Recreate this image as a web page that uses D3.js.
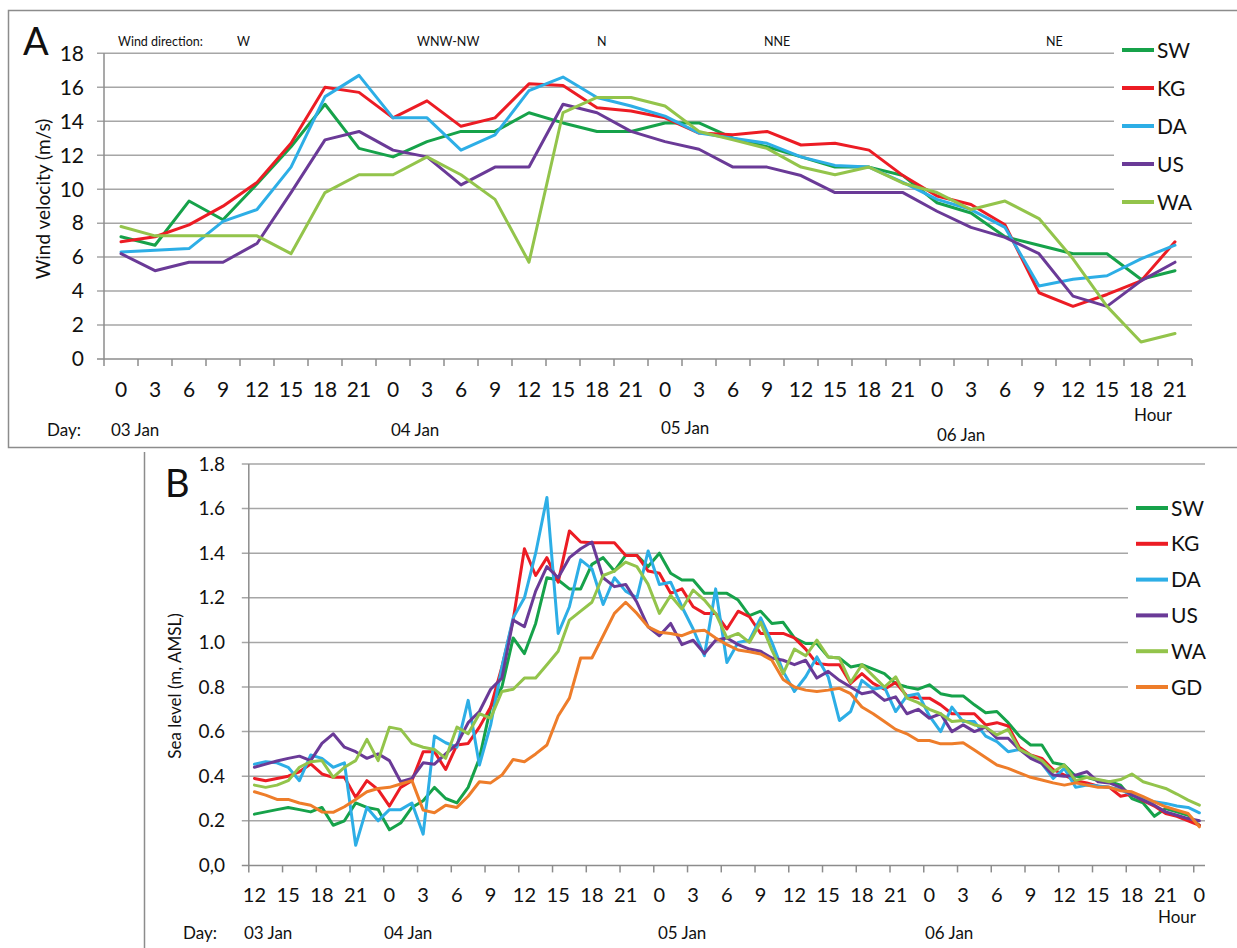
<!DOCTYPE html>
<html>
<head>
<meta charset="utf-8">
<script src="https://cdn.jsdelivr.net/npm/d3@7"></script>
<style>
  body { margin: 0; background: #ffffff; }
  svg { display: block; font-family: Lato, "Open Sans", "DejaVu Sans", sans-serif; }
</style>
</head>
<body>
<svg id="chart" width="1237" height="948"></svg>
<script>
// ---------- Panel A: wind velocity, 3-hourly, 03–06 Jan ----------
const windHourLabels = ["0","3","6","9","12","15","18","21",
                        "0","3","6","9","12","15","18","21",
                        "0","3","6","9","12","15","18","21",
                        "0","3","6","9","12","15","18","21"];
const windYTicks = [0,2,4,6,8,10,12,14,16,18];
const windSW = [7.2,6.7,9.3,8.2,10.3,12.5,15.0,12.4, 11.9,12.8,13.4,13.4,14.5,13.9,13.4,13.4,
                13.9,13.9,13.0,12.5,11.9,11.3,11.3,10.8, 9.2,8.6,7.2,6.7,6.2,6.2,4.7,5.2];
const windKG = [6.9,7.2,7.9,9.0,10.4,12.7,16.0,15.7, 14.2,15.2,13.7,14.2,16.2,16.1,14.8,14.6,
                14.2,13.3,13.2,13.4,12.6,12.7,12.3,10.8, 9.6,9.1,7.9,3.9,3.1,3.8,4.6,6.9];
const windDA = [6.3,6.4,6.5,8.1,8.8,11.3,15.45,16.7, 14.2,14.2,12.3,13.2,15.8,16.6,15.4,14.9,
                14.3,13.3,13.0,12.7,11.9,11.4,11.3,10.4, 9.4,8.8,7.75,4.3,4.7,4.9,5.9,6.7];
const windUS = [6.2,5.2,5.7,5.7,6.8,9.8,12.9,13.4, 12.3,11.9,10.25,11.3,11.3,15.0,14.5,13.4,
                12.8,12.35,11.3,11.3,10.8,9.8,9.8,9.8, 8.7,7.75,7.16,6.2,3.7,3.1,4.6,5.7];
const windWA = [7.8,7.25,7.25,7.25,7.25,6.2,9.8,10.85, 10.85,11.9,10.85,9.4,5.7,14.5,15.4,15.4,
                14.9,13.4,12.9,12.4,11.3,10.85,11.3,10.35, 9.8,8.8,9.3,8.27,5.9,3.1,1.0,1.5];
const windDirections = ["W","WNW-NW","N","NNE","NE"];

// ---------- Panel B: sea level, hourly, 03 Jan 12h – 07 Jan 0h ----------
const seaTickLabels = ["12","15","18","21","0","3","6","9","12","15","18","21",
                       "0","3","6","9","12","15","18","21","0","3","6","9","12","15","18","21","0"];
const seaYTicks = [0,0.2,0.4,0.6,0.8,1.0,1.2,1.4,1.6,1.8];
const seaSW = [0.23,0.24,0.25,0.26,0.25,0.24,0.26,0.18,0.20,0.28,0.26,0.25,0.16,0.19,0.26,0.29,0.35,0.30,0.28,0.35,0.48,0.71,
               0.80,1.02,0.95,1.085,1.29,1.28,1.24,1.24,1.35,1.38,1.32,1.39,1.39,1.34,1.40,1.31,1.28,1.28,1.22,1.22,
               1.22,1.19,1.12,1.14,1.085,1.09,1.02,0.995,0.995,0.935,0.93,0.89,0.90,0.88,0.86,0.815,0.80,0.79,0.81,
               0.77,0.76,0.76,0.72,0.685,0.69,0.64,0.58,0.54,0.54,0.46,0.45,0.40,0.395,0.38,0.375,0.36,0.30,0.28,0.22,0.255,0.24,0.225,0.18];
const seaKG = [0.39,0.38,0.39,0.40,0.42,0.455,0.41,0.395,0.395,0.305,0.38,0.34,0.266,0.35,0.38,0.51,0.51,0.43,0.54,0.547,0.62,0.71,
               0.89,1.10,1.42,1.30,1.38,1.27,1.50,1.45,1.447,1.447,1.447,1.39,1.39,1.32,1.31,1.22,1.24,1.16,1.13,1.13,
               1.06,1.14,1.115,1.04,1.04,1.04,1.02,0.97,0.905,0.90,0.90,0.816,0.86,0.816,0.79,0.82,0.76,0.75,0.75,
               0.72,0.68,0.68,0.68,0.63,0.64,0.625,0.53,0.495,0.48,0.43,0.405,0.38,0.37,0.355,0.35,0.31,0.32,0.29,0.266,0.233,0.22,0.20,0.18];
const seaDA = [0.454,0.465,0.46,0.44,0.38,0.495,0.48,0.44,0.46,0.09,0.26,0.20,0.25,0.25,0.28,0.14,0.58,0.55,0.53,0.74,0.45,0.63,
               0.89,1.11,1.20,1.40,1.65,1.04,1.16,1.37,1.33,1.17,1.29,1.23,1.20,1.41,1.26,1.27,1.16,1.06,0.94,1.24,
               0.91,1.0,1.01,1.11,1.0,0.87,0.78,0.846,0.935,0.846,0.65,0.69,0.83,0.79,0.80,0.69,0.76,0.77,0.67,
               0.60,0.71,0.645,0.645,0.58,0.555,0.51,0.52,0.49,0.457,0.39,0.435,0.35,0.36,0.356,0.35,0.34,0.315,0.30,0.285,0.278,0.266,0.26,0.236];
const seaUS = [0.44,0.454,0.468,0.48,0.49,0.47,0.547,0.59,0.53,0.51,0.48,0.50,0.47,0.375,0.39,0.46,0.454,0.50,0.544,0.64,0.69,0.79,
               0.84,1.10,1.07,1.23,1.34,1.29,1.38,1.42,1.45,1.29,1.25,1.26,1.18,1.07,1.03,1.085,0.99,1.01,0.95,1.01,
               1.02,0.99,0.97,0.96,0.93,0.92,0.90,0.92,0.84,0.87,0.83,0.80,0.77,0.78,0.74,0.756,0.68,0.70,0.66,
               0.68,0.60,0.63,0.60,0.62,0.57,0.57,0.52,0.48,0.457,0.405,0.40,0.405,0.42,0.375,0.37,0.35,0.315,0.293,0.27,0.24,0.225,0.21,0.20];
const seaWA = [0.36,0.35,0.36,0.38,0.44,0.465,0.47,0.395,0.44,0.47,0.565,0.47,0.62,0.61,0.547,0.53,0.52,0.48,0.62,0.59,0.68,0.66,
               0.78,0.79,0.84,0.84,0.90,0.96,1.10,1.14,1.18,1.30,1.32,1.36,1.34,1.26,1.13,1.21,1.15,1.235,1.19,1.13,
               1.02,1.04,1.0,1.09,0.965,0.86,0.97,0.94,1.01,0.935,0.93,0.82,0.90,0.85,0.80,0.846,0.75,0.73,0.70,
               0.68,0.645,0.65,0.63,0.62,0.585,0.61,0.52,0.495,0.47,0.42,0.45,0.38,0.395,0.385,0.375,0.385,0.41,0.375,0.36,0.345,0.32,0.293,0.27];
const seaGD = [0.33,0.315,0.296,0.296,0.28,0.27,0.24,0.238,0.263,0.296,0.33,0.345,0.35,0.365,0.38,0.248,0.236,0.27,0.26,0.31,0.375,0.37,
               0.405,0.475,0.465,0.50,0.54,0.67,0.75,0.93,0.93,1.03,1.13,1.18,1.13,1.07,1.045,1.04,1.03,1.05,1.055,1.02,
               0.99,0.966,0.958,0.948,0.92,0.834,0.80,0.786,0.78,0.786,0.794,0.77,0.71,0.68,0.645,0.61,0.59,0.56,0.56,
               0.545,0.545,0.55,0.517,0.484,0.45,0.435,0.415,0.395,0.383,0.37,0.36,0.37,0.36,0.35,0.35,0.335,0.33,0.308,0.285,0.263,0.248,0.233,0.173];

const stationNames = ["SW","KG","DA","US","WA","GD"];
const stationColors = ["#16a24a","#ec1c24","#2daee6","#6a3a97","#93c44b","#ee7d2a"];

const windSeries = [windSW, windKG, windDA, windUS, windWA];
const seaSeries  = [seaSW, seaKG, seaDA, seaUS, seaWA, seaGD];

const svg = d3.select("#chart");
const GRID = "#a6a6a6", AXIS = "#8c8c8c", FRAME = "#8c8c8c", INK = "#111";

// frames around the two panels
svg.append("path").attr("d", "M1240,10.5 H8.5 V447.5 H1240")
  .attr("fill", "none").attr("stroke", FRAME).attr("stroke-width", 1.5);
svg.append("line").attr("x1", 144.5).attr("x2", 144.5).attr("y1", 452).attr("y2", 948)
  .attr("stroke", FRAME).attr("stroke-width", 1.5);

function drawPanel(o) {
  const g = svg.append("g");
  const x = o.x, y = o.y;
  const [x0, x1] = x.range();
  const bw = x.bandwidth();

  // horizontal gridlines with short outward tick
  g.selectAll(".grid").data(o.yTicks).join("line")
    .attr("x1", x0 - 7).attr("x2", x1)
    .attr("y1", d => y(d)).attr("y2", d => y(d))
    .attr("stroke", d => d === 0 ? AXIS : GRID).attr("stroke-width", 1.5);
  // y axis line
  g.append("line").attr("x1", x0).attr("x2", x0)
    .attr("y1", y.range()[1]).attr("y2", y.range()[0])
    .attr("stroke", AXIS).attr("stroke-width", 1.5);
  // y tick labels
  g.selectAll(".ylab").data(o.yTicks).join("text")
    .attr("x", o.yLabelX).attr("y", d => y(d))
    .attr("dy", "0.35em").attr("text-anchor", "end")
    .attr("font-size", o.yFont).attr("fill", INK)
    .text(o.yFormat);
  // x ticks on category boundaries
  g.selectAll(".xt").data(o.tickIdx).join("line")
    .attr("x1", d => x0 + d * bw).attr("x2", d => x0 + d * bw)
    .attr("y1", y(0)).attr("y2", y(0) + 7)
    .attr("stroke", AXIS).attr("stroke-width", 1.5);
  // x labels centred on categories
  g.selectAll(".xl").data(o.labelIdx).join("text")
    .attr("x", (d) => x(d) + bw / 2).attr("y", o.xLabelY)
    .attr("text-anchor", "middle").attr("font-size", o.xFont).attr("fill", INK)
    .text((d, i) => o.xLabels[i]);

  // legend background covers the gridlines behind it
  g.append("rect").attr("x", o.legend.bg[0]).attr("y", o.legend.bg[1])
    .attr("width", o.legend.bg[2]).attr("height", o.legend.bg[3]).attr("fill", "#fff");

  // series lines
  const line = d3.line().x((d, i) => x(i) + bw / 2).y(d => y(d));
  g.selectAll(".series").data(o.series).join("path")
    .attr("d", line).attr("fill", "none")
    .attr("stroke", (d, i) => stationColors[i])
    .attr("stroke-width", 3).attr("stroke-linejoin", "round").attr("stroke-linecap", "round");

  // legend
  const lg = g.selectAll(".lg").data(o.series.map((d, i) => i)).join("g")
    .attr("transform", i => `translate(${o.legend.x},${o.legend.y + i * o.legend.step})`);
  lg.append("line").attr("x1", 0).attr("x2", 32).attr("stroke", i => stationColors[i]).attr("stroke-width", 4);
  lg.append("text").attr("x", 35).attr("dy", "0.36em").attr("font-size", 21).attr("fill", INK)
    .text(i => stationNames[i]);
}

// ---- Panel A ----
const xA = d3.scaleBand().domain(d3.range(windHourLabels.length)).range([104, 1192]);
const yA = d3.scaleLinear().domain([0, 18]).range([359, 53.3]);
drawPanel({
  x: xA, y: yA, yTicks: windYTicks, yFormat: d => d, yLabelX: 84, yFont: 21,
  tickIdx: d3.range(windHourLabels.length + 1),
  labelIdx: d3.range(windHourLabels.length), xLabels: windHourLabels, xLabelY: 397, xFont: 21,
  series: windSeries,
  legend: { x: 1122, y: 50, step: 38, bg: [1114, 30, 80, 185] }
});

// ---- Panel B ----
const xB = d3.scaleBand().domain(d3.range(seaSW.length)).range([248.8, 1205]);
const yB = d3.scaleLinear().domain([0, 1.8]).range([865.4, 464]);
drawPanel({
  x: xB, y: yB, yTicks: seaYTicks, yFormat: d => d === 0 ? "0,0" : d3.format(".1f")(d), yLabelX: 225, yFont: 19,
  tickIdx: d3.range(0, 85, 3),
  labelIdx: d3.range(0, 85, 3), xLabels: seaTickLabels, xLabelY: 902, xFont: 20,
  series: seaSeries,
  legend: { x: 1136, y: 508, step: 35.8, bg: [1128, 480, 80, 225] }
});

// ---- panel letters, axis titles and annotations ----
const txt = (s, x, yy, size, extra) => {
  const t = svg.append("text").attr("x", x).attr("y", yy).attr("font-size", size).attr("fill", INK).text(s);
  if (extra) extra(t);
  return t;
};
txt("A", 23, 55, 38);
txt("B", 165, 497, 38);

txt("Wind velocity (m/s)", 0, 0, 19, t => t.attr("text-anchor", "middle")
  .attr("transform", "translate(50,199) rotate(-90)"));
txt("Sea level (m, AMSL)", 0, 0, 17, t => t.attr("text-anchor", "middle")
  .attr("transform", "translate(181,686) rotate(-90)"));

// wind direction annotations
txt("Wind direction:", 118, 46, 12.5);
const dirX = [237, 417, 597, 764, 1046];
windDirections.forEach((d, i) => txt(d, dirX[i], 46, 12.5));

// day labels, panel A
txt("Day:", 47, 436, 17);
[["03 Jan", 111, 436], ["04 Jan", 391, 436], ["05 Jan", 661, 434], ["06 Jan", 937, 441]]
  .forEach(([s, xx, yy]) => txt(s, xx, yy, 17));
txt("Hour", 1134, 421, 17);

// day labels, panel B
txt("Day:", 183, 939, 17);
[["03 Jan", 244, 939], ["04 Jan", 384, 939], ["05 Jan", 658, 939], ["06 Jan", 925, 939]]
  .forEach(([s, xx, yy]) => txt(s, xx, yy, 17));
txt("Hour", 1158, 923, 17);
</script>
</body>
</html>
